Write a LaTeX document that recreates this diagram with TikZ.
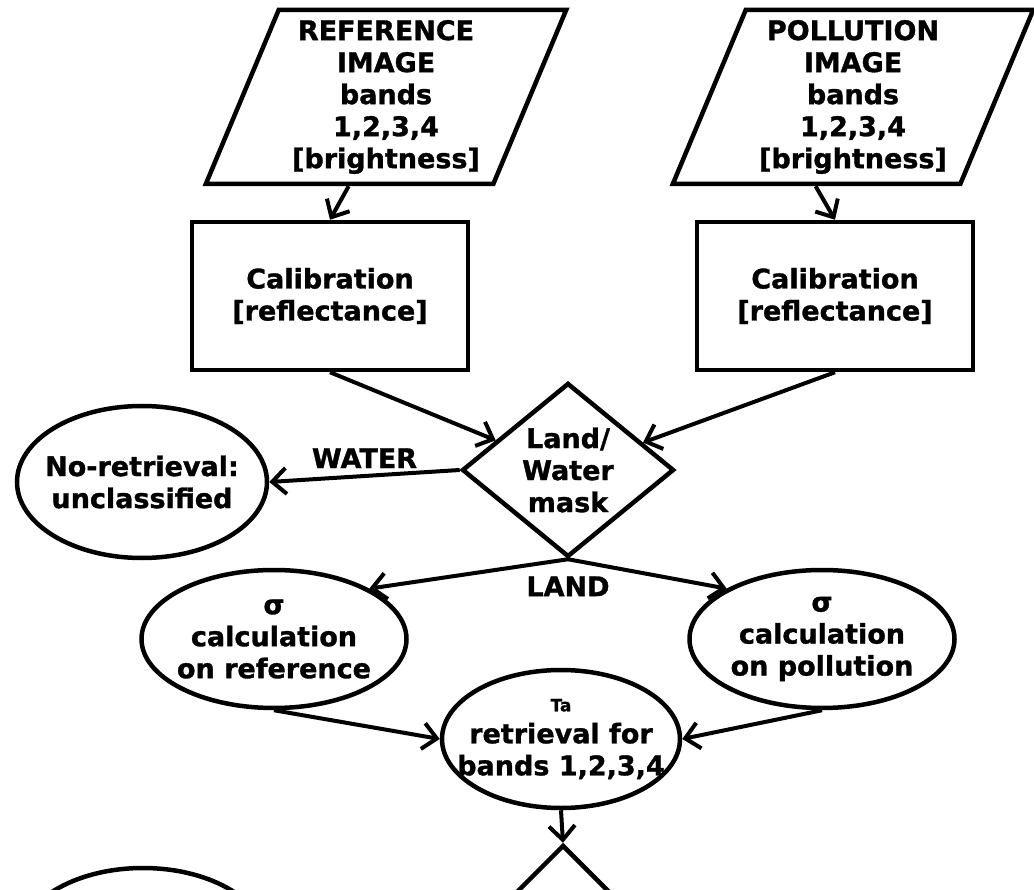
\documentclass[tikz,border=0pt]{standalone}
\usepackage{fontspec}
\setmainfont{DejaVu Sans}[BoldFeatures={FakeBold=1.2}]
\usetikzlibrary{shapes.geometric,arrows.meta,positioning}

\begin{document}
\begin{tikzpicture}[x=1pt,y=-1pt,
  font=\fontsize{27}{32}\selectfont\bfseries,
  every node/.style={align=center, inner sep=0pt},
  io/.style={draw, line width=4.5pt, trapezium, trapezium left angle=67.5,
    trapezium right angle=112.5, trapezium stretches=true,
    minimum width=362, minimum height=174},
  box/.style={draw, line width=4.5pt, rectangle, minimum width=276, minimum height=148},
  test/.style={draw, line width=4.5pt, diamond, aspect=1.22, minimum width=212, minimum height=174},
  oval/.style={draw, line width=4.5pt, ellipse, inner xsep=-25pt},
  arr/.style={line width=4pt, -{Straight Barb[length=14pt,width=26pt]}}]
\useasboundingbox (0,0) rectangle (1034,890);
\clip (0,0) rectangle (1034,890);

% inputs
\node[io] (refimg) at (386,97) {REFERENCE\\IMAGE\\bands\\1,2,3,4\\{[brightness]}};
\node[io] (polimg) at (853,97) {POLLUTION\\IMAGE\\bands\\1,2,3,4\\{[brightness]}};
\node[box] (calref) at (330,296) {Calibration\\{[reflectance]}};
\node[box] (calpol) at (835,296) {Calibration\\{[reflectance]}};

% mask and branches
\node[test] (mask) at (568,470) {Land/\\Water\\mask};
\node[oval, minimum width=250, minimum height=152] (noret) at (142,482) {No-retrieval:\\unclassified};
\node[oval, minimum width=265, minimum height=138] (sigref) at (274,639) {σ\\calculation\\on reference};
\node[oval, minimum width=265, minimum height=138] (sigpol) at (822,639) {σ\\calculation\\on pollution};
\node[oval, minimum width=238, minimum height=138] (retr) at (561,739) {{\fontsize{17}{18}\selectfont Ta}\\retrieval for\\bands 1,2,3,4};
\node[test, aspect=1, minimum width=200, minimum height=200] (dec) at (563,945) {};
\node[oval, minimum width=250, minimum height=152] (lowoval) at (143,944) {};
\node[below=17pt of mask.south] (land) {LAND};

\draw[arr] (refimg.bottom side) -- (calref.north);
\draw[arr] (polimg.bottom side) -- (calpol.north);
\draw[arr] (calref.south) -- (mask);
\draw[arr] (calpol.south) -- (mask);
\draw[arr] (mask.west) -- node[above=6pt] (water) {WATER} (noret.east);
\draw[arr] (mask.south) -- (sigref.north east);
\draw[arr] (mask.south) -- (sigpol.north west);
\draw[arr] (sigref.south) -- (retr.west);
\draw[arr] (sigpol.south) -- (retr.east);
\draw[arr] (retr.south) -- (dec.north);
\end{tikzpicture}
\end{document}
